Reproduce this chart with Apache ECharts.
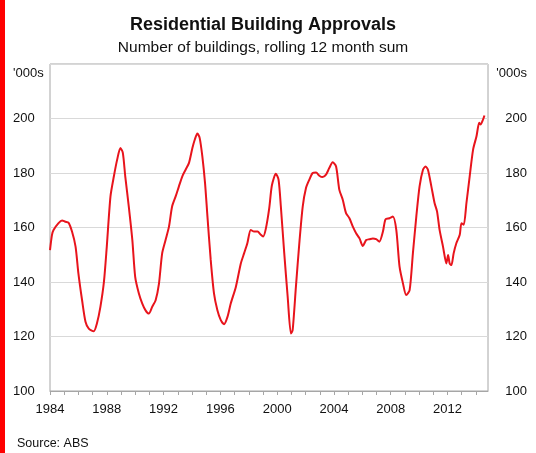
<!DOCTYPE html>
<html>
<head>
<meta charset="utf-8">
<script src="https://cdn.jsdelivr.net/npm/echarts@6/dist/echarts.min.js"></script>
<style>
  html, body { margin: 0; padding: 0; background: #fff; }
  #chart { width: 536px; height: 453px; }
</style>
</head>
<body>
<div id="chart"></div>
<script>
// Rolling 12-month sum of residential building approvals ('000s), by decimal year
const years = [
  1984.00, 1984.14, 1984.25, 1984.60, 1984.85, 1985.08, 1985.30, 1985.55, 1985.80,
  1986.00, 1986.26, 1986.50, 1986.73, 1987.08, 1987.30, 1987.55, 1987.80,
  1988.00, 1988.26, 1988.50, 1988.73, 1988.96, 1989.13, 1989.30, 1989.55, 1989.80,
  1990.00, 1990.26, 1990.50, 1990.73, 1990.96, 1991.20, 1991.44, 1991.67, 1991.90,
  1992.14, 1992.38, 1992.60, 1992.85, 1993.08, 1993.32, 1993.55, 1993.79,
  1994.03, 1994.20, 1994.38, 1994.54, 1994.73, 1994.92, 1995.09, 1995.32, 1995.55, 1995.79,
  1996.03, 1996.26, 1996.50, 1996.73, 1997.09, 1997.44, 1997.67, 1997.90,
  1998.14, 1998.38, 1998.62, 1998.85, 1999.01, 1999.20, 1999.44, 1999.63, 1999.91,
  2000.10, 2000.26, 2000.50, 2000.74, 2000.97, 2001.09, 2001.32, 2001.56, 2001.80,
  2002.03, 2002.26, 2002.50, 2002.74, 2002.97, 2003.20, 2003.44, 2003.67, 2003.91,
  2004.15, 2004.38, 2004.62, 2004.85, 2005.09, 2005.33, 2005.56, 2005.80,
  2006.03, 2006.27, 2006.50, 2006.74, 2006.97, 2007.20, 2007.45, 2007.63, 2007.91,
  2008.15, 2008.39, 2008.62, 2008.86, 2009.09, 2009.33, 2009.56, 2009.80,
  2010.03, 2010.27, 2010.45, 2010.62, 2010.86, 2011.09, 2011.26, 2011.44, 2011.68, 2011.92,
  2012.04, 2012.15, 2012.27, 2012.43, 2012.62, 2012.86, 2012.98, 2013.14, 2013.33, 2013.56, 2013.80,
  2014.04, 2014.23, 2014.32, 2014.50, 2014.60
];
const approvals = [
  151.7, 157.3, 159.1, 161.6, 162.6, 162.1, 161.8, 158.5, 153.0,
  143.2, 133.3, 125.4, 122.9, 121.9, 124.7, 130.9, 140.1,
  153.0, 171.4, 178.8, 184.9, 189.2, 187.4, 178.8, 167.7, 155.4,
  141.9, 135.8, 132.1, 129.6, 128.4, 130.9, 133.3, 139.2, 150.5,
  155.4, 160.3, 167.7, 171.4, 175.1, 178.8, 181.2, 183.7,
  189.2, 192.3, 194.5, 192.9, 186.1, 176.3, 164.0, 148.1, 135.8, 129.6,
  126.0, 124.5, 127.2, 132.1, 138.2, 146.8, 150.5, 154.2,
  159.1, 158.5, 158.5, 157.3, 156.7, 159.5, 167.0, 175.5, 179.7,
  177.5, 167.7, 150.5, 134.6, 121.1, 122.3, 138.2, 154.2, 167.7,
  174.5, 177.5, 180.0, 180.2, 179.0, 178.5, 179.4, 181.8, 183.9,
  182.4, 173.8, 170.2, 165.3, 163.4, 160.3, 157.9, 156.0,
  153.2, 155.4, 155.7, 156.0, 155.7, 154.8, 158.5, 163.0, 163.4,
  164.0, 159.1, 145.6, 139.5, 135.2, 137.0, 150.5, 164.0,
  175.1, 181.2, 182.4, 181.2, 175.1, 168.9, 165.9, 159.1, 153.0, 146.8,
  149.9, 146.8, 146.2, 150.5, 154.2, 157.3, 161.6, 161.0, 168.9, 178.8, 188.6,
  193.5, 198.4, 197.8, 199.6, 201.1
];

// Axis ranges and tick steps
const xMin = 1984, xMax = 2014.85, xLabelStep = 4;
const yMin = 100, yMax = 220, yStep = 20;

const FONT = '"Liberation Sans", Arial, sans-serif';
const TEXT = '#111';

const chart = echarts.init(document.getElementById('chart'), null, { renderer: 'canvas' });

const yLabel = (v) => (v === yMax ? '' : String(v));

chart.setOption({
  animation: false,
  backgroundColor: '#fff',
  textStyle: { fontFamily: FONT },
  grid: {
    left: 50, right: 48, top: 64, bottom: 62,
    show: true, borderColor: '#a6a6a6', borderWidth: 1, backgroundColor: 'transparent'
  },
  xAxis: {
    type: 'value', min: xMin, max: xMax, interval: 1,
    axisLine: { show: true, lineStyle: { color: '#a6a6a6', width: 1 } },
    axisTick: { show: true, inside: false, length: 4, lineStyle: { color: '#a6a6a6' } },
    splitLine: { show: false },
    axisLabel: {
      margin: 12, color: TEXT, fontSize: 13, fontFamily: FONT,
      showMaxLabel: false,
      formatter: (v) => (Number.isInteger(v) && v % xLabelStep === 0 ? String(v) : '')
    }
  },
  yAxis: [
    {
      type: 'value', min: yMin, max: yMax, interval: yStep, position: 'left',
      axisLine: { show: false }, axisTick: { show: false },
      splitLine: { show: true, lineStyle: { color: '#d9d9d9', width: 1 } },
      axisLabel: { align: 'left', margin: 37, color: TEXT, fontSize: 13, fontFamily: FONT, formatter: yLabel }
    },
    {
      type: 'value', min: yMin, max: yMax, interval: yStep, position: 'right',
      axisLine: { show: false }, axisTick: { show: false }, splitLine: { show: false },
      axisLabel: { align: 'right', margin: 39, color: TEXT, fontSize: 13, fontFamily: FONT, formatter: yLabel }
    }
  ],
  graphic: [
    { type: 'rect', left: 0, top: 0, shape: { width: 5, height: 453 }, style: { fill: '#ff0000' }, silent: true },
    { type: 'text', x: 263, y: 25, style: { text: 'Residential Building Approvals', font: 'bold 18px ' + FONT, fill: TEXT, textAlign: 'center', textVerticalAlign: 'middle' } },
    { type: 'text', x: 263, y: 48, style: { text: 'Number of buildings, rolling 12 month sum', font: '15.5px ' + FONT, fill: TEXT, textAlign: 'center', textVerticalAlign: 'middle' } },
    { type: 'text', x: 13, y: 73, style: { text: "'000s", font: '13px ' + FONT, fill: TEXT, textAlign: 'left', textVerticalAlign: 'middle' } },
    { type: 'text', x: 527, y: 73, style: { text: "'000s", font: '13px ' + FONT, fill: TEXT, textAlign: 'right', textVerticalAlign: 'middle' } },
    { type: 'text', x: 17, y: 444, style: { text: 'Source: ABS', font: '12.5px ' + FONT, fill: TEXT, textAlign: 'left', textVerticalAlign: 'middle' } }
  ],
  series: [
    {
      type: 'line', yAxisIndex: 0,
      data: years.map((y, i) => [y, approvals[i]]),
      showSymbol: false, smooth: 0.25,
      lineStyle: { color: '#e8141c', width: 2 },
      silent: true
    }
  ]
});
</script>
</body>
</html>
